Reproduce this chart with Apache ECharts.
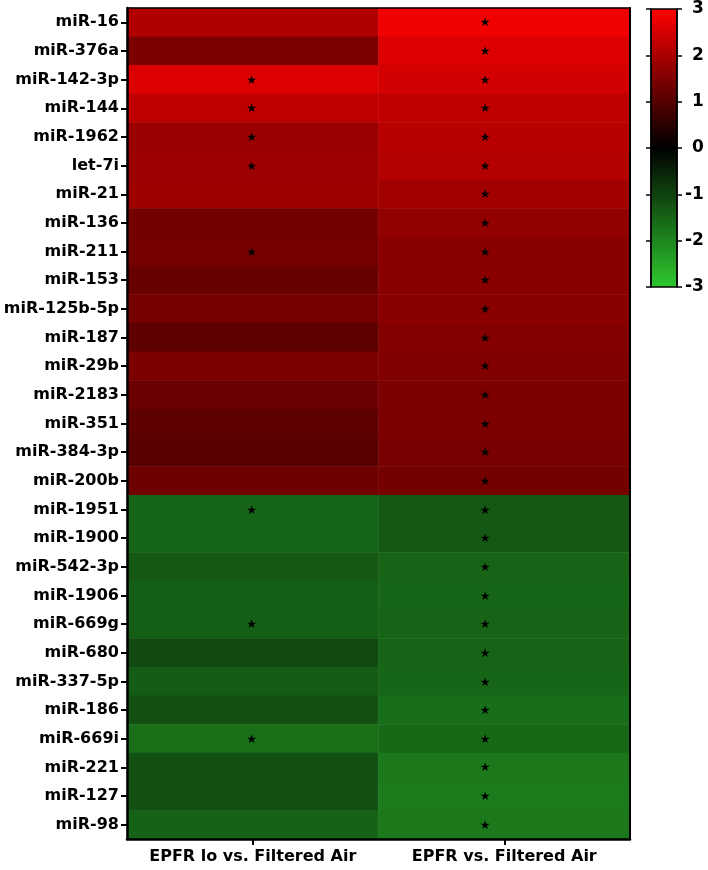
<!DOCTYPE html>
<html>
<head>
<meta charset="utf-8">
<script src="https://cdn.jsdelivr.net/npm/echarts@6/dist/echarts.min.js"></script>
<style>html,body{margin:0;padding:0;background:#fff}#c{width:708px;height:870px}</style>
</head>
<body>
<div id="c"></div>
<script>
const columns = ['EPFR lo vs. Filtered Air', 'EPFR vs. Filtered Air'];
const rows = ['miR-16','miR-376a','miR-142-3p','miR-144','miR-1962','let-7i','miR-21','miR-136','miR-211','miR-153','miR-125b-5p','miR-187','miR-29b','miR-2183','miR-351','miR-384-3p','miR-200b','miR-1951','miR-1900','miR-542-3p','miR-1906','miR-669g','miR-680','miR-337-5p','miR-186','miR-669i','miR-221','miR-127','miR-98'];
const epfrLo = [2.07,1.47,2.59,2.24,1.81,1.84,1.86,1.37,1.39,1.22,1.39,1.1,1.46,1.27,1.08,1.04,1.29,-1.53,-1.53,-1.32,-1.41,-1.41,-1.1,-1.38,-1.22,-1.68,-1.22,-1.22,-1.47];
const epfr = [2.82,2.59,2.47,2.26,2.16,2.12,1.88,1.72,1.62,1.62,1.62,1.55,1.5,1.46,1.46,1.41,1.36,-1.32,-1.32,-1.5,-1.53,-1.5,-1.5,-1.53,-1.65,-1.56,-1.8,-1.84,-1.8];
const sigLo = [0,0,1,1,1,1,0,0,1,0,0,0,0,0,0,0,0,1,0,0,0,1,0,0,0,1,0,0,0];
const sigEpfr = [1,1,1,1,1,1,1,1,1,1,1,1,1,1,1,1,1,1,1,1,1,1,1,1,1,1,1,1,1];
const scaleTicks = [-3,-2,-1,0,1,2,3];

const FONT = 'DejaVu Sans';
const cells = [];
const starOffsets = [[-1, 1], [-19, 1]];
[epfrLo, epfr].forEach((vals, ci) => {
  const sig = ci === 0 ? sigLo : sigEpfr;
  vals.forEach((v, ri) => {
    cells.push({
      value: [ci, ri, v],
      label: {
        show: !!sig[ri],
        formatter: '★',
        color: '#000',
        fontSize: 12,
        fontFamily: FONT,
        offset: starOffsets[ci]
      }
    });
  });
});

const scaleMin = scaleTicks[0], scaleMax = scaleTicks[scaleTicks.length - 1];
const chart = echarts.init(document.getElementById('c'), null, {renderer: 'canvas'});
chart.setOption({
  animation: false,
  backgroundColor: '#fff',
  grid: [
    {left: 127, right: 78, top: 8, bottom: 31},
    {left: 651, top: 9, width: 26, height: 278, show: true, borderColor: '#000', borderWidth: 1.5, backgroundColor: 'transparent', z: 10}
  ],
  xAxis: [
    {
      type: 'category', gridIndex: 0, data: columns, position: 'bottom', z: 10,
      axisLine: {show: true, lineStyle: {color: '#000', width: 2.5}},
      axisTick: {show: true, alignWithLabel: true, length: 6, lineStyle: {color: '#000', width: 2}},
      axisLabel: {color: '#000', fontFamily: FONT, fontWeight: 'bold', fontSize: 16, margin: 10, interval: 0},
      splitLine: {show: false}
    },
    {
      type: 'category', gridIndex: 0, data: columns, position: 'top', z: 10,
      axisLine: {show: true, lineStyle: {color: '#000', width: 1.5}},
      axisTick: {show: false}, axisLabel: {show: false}
    },
    {type: 'value', gridIndex: 1, show: false, min: 0, max: 1}
  ],
  yAxis: [
    {
      type: 'category', gridIndex: 0, data: rows, inverse: true, z: 10,
      axisLine: {show: true, lineStyle: {color: '#000', width: 2.5}},
      axisTick: {show: true, alignWithLabel: true, length: 6, lineStyle: {color: '#000', width: 2}},
      axisLabel: {color: '#000', fontFamily: FONT, fontWeight: 'bold', fontSize: 16, margin: 8, interval: 0},
      splitLine: {show: false}
    },
    {
      type: 'category', gridIndex: 0, data: rows, inverse: true, position: 'right', z: 10,
      axisLine: {show: true, lineStyle: {color: '#000', width: 2}},
      axisTick: {show: false}, axisLabel: {show: false}
    },
    {
      type: 'value', gridIndex: 1, min: scaleMin, max: scaleMax, interval: 1, position: 'right', z: 20,
      axisLine: {show: true, onZero: false, lineStyle: {color: '#000', width: 1.5}},
      axisTick: {show: true, inside: false, length: 5, lineStyle: {color: '#000', width: 1.5}},
      axisLabel: {
        color: '#000', fontFamily: FONT, fontWeight: 'bold', fontSize: 17, margin: 8,
        formatter: v => v < 0 ? String(v) : '{p|' + v + '}',
        rich: {p: {color: '#000', fontFamily: FONT, fontWeight: 'bold', fontSize: 17, padding: [0, 0, 0, 7]}}
      },
      splitLine: {show: false}
    },
    {
      type: 'value', gridIndex: 1, min: scaleMin, max: scaleMax, interval: 1, position: 'left', z: 20,
      axisLine: {show: true, onZero: false, lineStyle: {color: '#000', width: 1.5}},
      axisTick: {show: true, inside: false, length: 5, lineStyle: {color: '#000', width: 1.5}},
      axisLabel: {show: false},
      splitLine: {show: false}
    }
  ],
  visualMap: {
    type: 'continuous', min: -3, max: 3, seriesIndex: 0,
    calculable: false, orient: 'vertical',
    left: 651, top: 9, itemWidth: 26, itemHeight: 278, padding: 0,
    text: null, showLabel: false, hoverLink: false,
    inRange: {color: ['#2dc82d', '#000000', '#ff0000']}
  },
  series: [{
    type: 'heatmap', xAxisIndex: 0, yAxisIndex: 0,
    data: cells,
    itemStyle: {borderWidth: 0},
    emphasis: {disabled: true}
  }]
});
</script>
</body>
</html>
